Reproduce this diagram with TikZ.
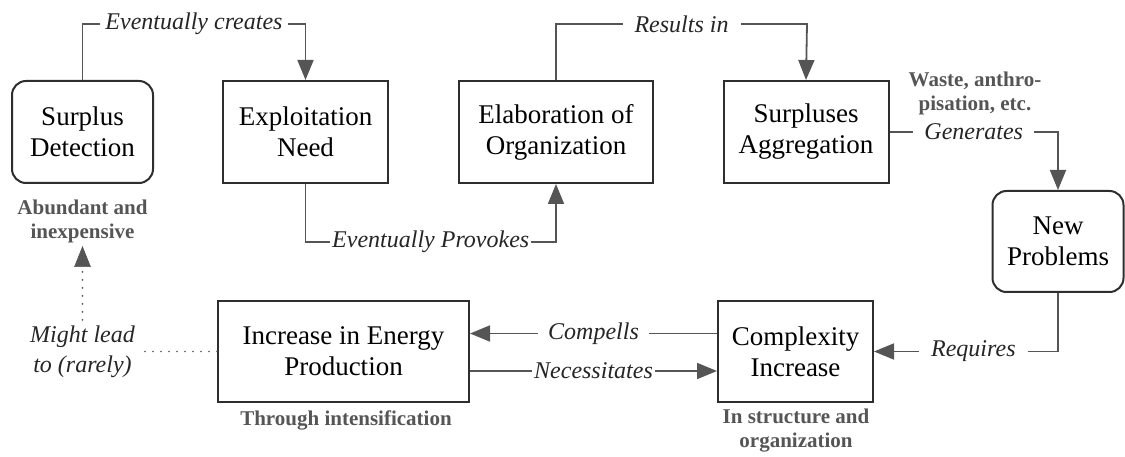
\documentclass[tikz,border=0pt]{standalone}
\usepackage{fontspec}
\setmainfont{Liberation Serif}
\newfontfamily\termsfont{Liberation Serif}
\usetikzlibrary{arrows.meta}
\definecolor{boxline}{HTML}{2E2E2E}
\definecolor{linkline}{HTML}{555555}
\definecolor{notegray}{HTML}{555555}
\tikzset{
  box/.style={draw=boxline, line width=2pt, fill=white, align=center,
    font=\termsfont\fontsize{27}{31}\selectfont, inner sep=0pt},
  rbox/.style={box, rounded corners=14pt},
  link/.style={draw=linkline, line width=1.8pt,
    -{Triangle[length=20pt,width=16pt]}, color=linkline},
  dotlink/.style={draw=linkline, line width=1.8pt, line cap=round,
    dash pattern=on 0pt off 8pt},
  verb/.style={fill=white, font=\termsfont\fontsize{24}{28}\selectfont\itshape,
    text=black!85, inner ysep=2pt, inner xsep=6pt},
  note/.style={align=center, text=notegray,
    font=\termsfont\fontsize{21}{24}\selectfont\bfseries, inner sep=0pt},
}
\begin{document}
\begin{tikzpicture}[x=1pt,y=-1pt]
\useasboundingbox (0,0) rectangle (1125,457);

% stages of the cycle
\node[rbox, minimum width=141pt, minimum height=102pt] (sd) at (82.5,132) {Surplus\\Detection};
\node[box,  minimum width=165pt, minimum height=102pt] (en) at (305.5,132) {Exploitation\\Need};
\node[box,  minimum width=194pt, minimum height=102pt] (eo) at (556,132) {Elaboration of\\Organization};
\node[box,  minimum width=165pt, minimum height=102pt] (sa) at (806,132) {Surpluses\\Aggregation};
\node[rbox, minimum width=131pt, minimum height=101pt] (np) at (1058,241.5) {New\\Problems};
\node[box,  minimum width=251pt, minimum height=101pt] (iep) at (343.5,351.5) {Increase in Energy\\Production};
\node[box,  minimum width=155pt, minimum height=101pt] (ci) at (795.5,351.5) {Complexity\\Increase};

% annotations
\node[note] (nab) at (82.5,221) {Abundant and\\inexpensive};
\node[note] (nws) at (975,93) {Waste, anthro-\\pisation, etc.};
\node[note] (nti) at (346,420) {Through intensification};
\node[note] (nso) at (796,431) {In structure and\\organization};
\node[align=center, font=\termsfont\fontsize{24}{30}\selectfont\itshape, text=black!85, inner sep=0pt]
  (mlt) at (82.5,352) {Might lead\\to (rarely)};

% links between stages
\coordinate (c1a) at (82.5,24);
\coordinate (c1b) at (305.5,24);
\draw[link] (sd.north) -- (c1a) -- node[verb, inner xsep=5pt] {Eventually creates} (c1b) -- (en.north);

\coordinate (c2a) at (305.5,242);
\coordinate (c2b) at (556,242);
\draw[link] (en.south) -- (c2a) -- node[verb, inner xsep=2pt] {Eventually Provokes} (c2b) -- (eo.south);

\coordinate (c3a) at (556,24);
\coordinate (c3b) at (807,24);
\draw[link] (eo.north) -- (c3a) -- node[verb, inner xsep=12pt] {Results in} (c3b) -- (sa.north);

\coordinate (c4) at (np.north |- sa.east);
\draw[link] (sa.east) -- node[verb, inner xsep=11pt] {Generates} (c4) -- (np.north);

\coordinate (c5) at (np.south |- ci.east);
\draw[link] (np.south) -- (c5) -- node[verb, inner xsep=12pt, pos=0.46] {Requires} (ci.east);

\coordinate (c6a) at ([yshift=18pt]ci.west);
\coordinate (c6b) at (c6a -| iep.east);
\draw[link] (c6a) -- node[verb, inner xsep=10pt] {Compells} (c6b);

\coordinate (c7a) at ([yshift=-19.5pt]iep.east);
\coordinate (c7b) at (c7a -| ci.west);
\draw[link] (c7a) -- node[verb, inner xsep=2pt] {Necessitates} (c7b);

% rare feedback to surplus detection
\coordinate (tip) at ([yshift=-4pt]nab.south);
\draw[dotlink] (iep.west) -- ([xshift=4pt]mlt.east |- iep.west);
\draw[dotlink] ([yshift=6pt]mlt.north) -- ([yshift=-24pt]nab.south);
\draw[linkline, fill=linkline, line width=0.5pt]
  (tip) -- ++(-8,20) -- ++(16,0) -- cycle;
\end{tikzpicture}
\end{document}
